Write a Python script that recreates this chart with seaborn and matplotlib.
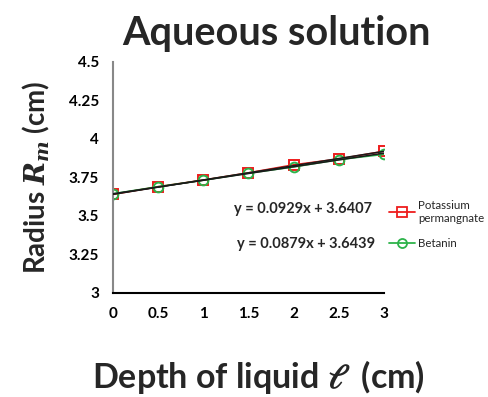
import numpy as np
import pandas as pd
import matplotlib
matplotlib.use("Agg")
import matplotlib.pyplot as plt
import seaborn as sns
from matplotlib.ticker import MultipleLocator, FixedLocator
from matplotlib.lines import Line2D

depth = [0, 0.5, 1, 1.5, 2, 2.5, 3]
kmno4 = [3.640, 3.690, 3.733, 3.780, 3.832, 3.870, 3.920]
betanin = [3.644, 3.690, 3.732, 3.778, 3.818, 3.866, 3.900]
series_names = ["Potassium\npermangnate", "Betanin"]
fit_kmno4 = (0.0929, 3.6407)
fit_betanin = (0.0879, 3.6439)
yticks = [3, 3.25, 3.5, 3.75, 4, 4.25, 4.5]
ytick_labels = ["3", "3.25", "3.5", "3.75", "4", "4.25", "4.5"]
xticks = [0, 0.5, 1, 1.5, 2, 2.5, 3]
xtick_labels = ["0", "0.5", "1", "1.5", "2", "2.5", "3"]

sns.set_style("white")
plt.rcParams['font.family'] = ['Lato', 'DejaVu Sans']
plt.rcParams['mathtext.fontset'] = 'dejavuserif'

df = pd.DataFrame({
    "depth": depth * 2,
    "radius": kmno4 + betanin,
    "series": [series_names[0]] * len(depth) + [series_names[1]] * len(depth),
})

fig = plt.figure(figsize=(4.89, 3.97), dpi=100)
ax = fig.add_axes([0.231, 0.262, 0.554, 0.582])

palette = {series_names[0]: "#ee1c1c", series_names[1]: "#2db34a"}
sns.lineplot(data=df, x="depth", y="radius", hue="series", style="series",
             markers={series_names[0]: "s", series_names[1]: "o"}, dashes=False,
             palette=palette, ax=ax, linewidth=1.2, markersize=7,
             legend=False)
for line, c in zip(ax.lines, [palette[series_names[0]], palette[series_names[1]]]):
    line.set_markeredgecolor(c)
    line.set_markerfacecolor("none")
    line.set_markeredgewidth(1.4)

xx = np.array([depth[0], depth[-1]])
for m, b in [fit_kmno4, fit_betanin]:
    ax.plot(xx, m * xx + b, color="#1a1a1a", lw=1.1, zorder=5)

ax.set_xlim(0, 3)
ax.set_ylim(3, 4.5)
ax.xaxis.set_major_locator(FixedLocator(xticks))
ax.set_xticklabels(xtick_labels)
ax.yaxis.set_major_locator(FixedLocator(yticks))
ax.set_yticklabels(ytick_labels)
ax.xaxis.set_minor_locator(MultipleLocator(0.25))
ax.yaxis.set_minor_locator(MultipleLocator(0.125))
ax.tick_params(axis="both", which="both", direction="in", length=4, width=1,
               labelsize=11)
ax.tick_params(axis="y", colors="#888888", labelcolor="black")
ax.tick_params(axis="x", colors="black", labelcolor="black")
ax.tick_params(axis="both", pad=10)
for lab in ax.get_xticklabels() + ax.get_yticklabels():
    lab.set_fontweight("bold")
for s in ["top", "right"]:
    ax.spines[s].set_visible(False)
ax.spines["left"].set_color("#888888")
ax.spines["left"].set_linewidth(1.5)
ax.spines["bottom"].set_color("black")
ax.spines["bottom"].set_linewidth(1.5)

ax.set_xlabel("")
ax.set_ylabel("Radius $\\mathbfit{R_m}$ (cm)", fontsize=20, fontweight="bold", labelpad=12)
fig.text(0.565, 0.915, "Aqueous solution", ha="center", va="center", fontsize=28.5, fontweight="bold")
fig.text(0.528, 0.05, "Depth of liquid $\\mathbfit{\\ell}$  (cm)", ha="center", va="center", fontsize=24.5, fontweight="bold")

fig.text(0.62, 0.474, "y = %.4fx + %.4f" % fit_kmno4, ha="center", va="center", fontsize=10.5, fontweight="bold")
fig.text(0.625, 0.386, "y = %.4fx + %.4f" % fit_betanin, ha="center", va="center", fontsize=10.5, fontweight="bold")

handles = [Line2D([], [], color=palette[series_names[0]], marker="s", markerfacecolor="none", markersize=7, lw=1.3, markeredgewidth=1.3),
           Line2D([], [], color=palette[series_names[1]], marker="o", markerfacecolor="none", markersize=6.5, lw=1.3, markeredgewidth=1.3)]
fig.legend(handles, series_names, loc="center left", bbox_to_anchor=(0.775, 0.435),
           frameon=False, fontsize=8.3, handlelength=2.2, handletextpad=0.3, labelspacing=1.2)

fig.savefig("out.png", dpi=100)
